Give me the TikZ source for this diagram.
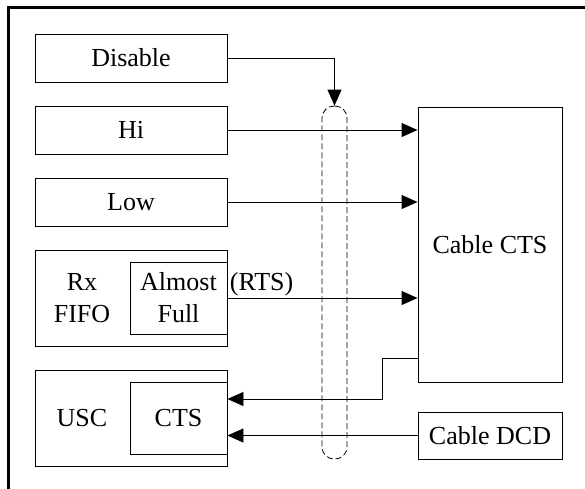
\documentclass[tikz,border=0pt]{standalone}
\usepackage{fontspec}
\setmainfont{Liberation Serif}
\usetikzlibrary{arrows.meta}

\tikzset{
    box/.style={draw, line width=0.9pt, inner sep=0pt, align=center},
    sig/.style={line width=0.9pt, -{Triangle[length=16pt,width=14pt]}},
}

\begin{document}
\begin{tikzpicture}[x=1pt, y=-1pt, font=\fontsize{26}{32}\selectfont]
    \pgfmathsetmacro{\bw}{192}
    \pgfmathsetmacro{\bh}{48}
    \pgfmathsetmacro{\dy}{72}
    \useasboundingbox (0,0) rectangle (585,488);
    \begin{scope}
        \clip (0,0) rectangle (585,488);
        \draw[line width=3pt] (8,7) rectangle (600,500);
    \end{scope}
    \foreach \nm/\txt [count=\n] in {dis/Disable, hi/Hi, low/Low} {
        \node[box, minimum width=\bw, minimum height=\bh] (\nm) at (131,{58+(\n-1)*\dy}) {\txt};
    }
    \node[box, minimum width=\bw, minimum height=96] (rx) at (131,298) {};
    \node[box, minimum width=97, minimum height=72] (af) at (178.5,298) {Almost\\Full};
    \node (rxtxt) at (82,298) [align=center] {Rx\\FIFO};
    \node[box, minimum width=\bw, minimum height=96] (usc) at (131,418) {};
    \node[box, minimum width=97, minimum height=72] (cts) at (178.5,418) {CTS};
    \node (usctxt) at (82,418) {USC};
    \node[box, minimum width=144, minimum height=275] (ccts) at (490,244.5) {Cable CTS};
    \node[box, minimum width=144, minimum height=47] (cdcd) at (490,435.5) {Cable DCD};
    \node[draw, dash pattern=on 6pt off 3pt, line width=0.8pt, rounded corners=12pt, minimum width=25, minimum height=353] (cable) at (334.5,282.5) {};
    \coordinate (fb) at (418,358);
    \coordinate (bend) at (382,399);
    \draw[sig] (dis.east) -| (cable.north);
    \draw[sig] (hi.east) -- (hi.east -| ccts.west);
    \draw[sig] (low.east) -- (low.east -| ccts.west);
    \draw[sig] (af.east) -- (af.east -| ccts.west) node[pos=0, above right, inner sep=2pt] (rts) {(RTS)};
    \draw[sig] (fb) -| (bend) -- (bend -| cts.east);
    \draw[sig] (cdcd.west) -- (cdcd.west -| cts.east);
\end{tikzpicture}
\end{document}
